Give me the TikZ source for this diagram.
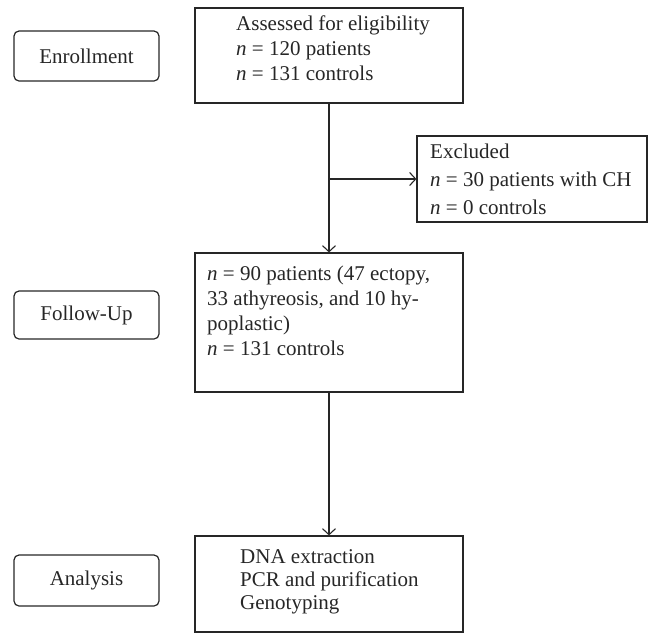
\documentclass[tikz,border=0pt]{standalone}
\usepackage{fontspec}
\setmainfont{Liberation Serif}
\usetikzlibrary{arrows.meta}
\definecolor{ink}{HTML}{262626}
\begin{document}
\begin{tikzpicture}[x=1pt,y=-1pt,
  font=\fontsize{21}{25}\selectfont,
  lbl/.style={draw=ink,line width=1.2pt,rounded corners=5pt,minimum width=145pt,minimum height=50pt,inner sep=0pt,text=ink},
  bx/.style={draw=ink,line width=1.2pt,inner sep=0pt,text=ink},
  txt/.style={anchor=west,align=left,inner sep=0pt,text=ink},
  conn/.style={draw=ink,line width=1.2pt},
  arr/.style={conn,-{Straight Barb[length=6pt,width=13pt,line width=1.1pt]}}]
\useasboundingbox (0,0) rectangle (649,633);
% left stage labels
\node[lbl] (enr) at (86.5,56) {Enrollment};
\node[lbl,minimum height=48pt] (fu) at (86.5,315) {Follow-Up};
\node[lbl,minimum height=51pt] (an) at (86.5,580.5) {Analysis};
% main boxes
\node[bx,minimum width=268pt,minimum height=95pt] (ass) at (329,55.5) {};
\node[bx,minimum width=230pt,minimum height=86pt] (exc) at (532,179) {};
\node[bx,minimum width=268pt,minimum height=139pt] (fol) at (329,322.5) {};
\node[bx,minimum width=268pt,minimum height=96pt] (ana) at (329,584) {};
% texts
\node[txt] (asst) at (236,48) {Assessed for eligibility\\ \textit{n} = 120 patients\\ \textit{n} = 131 controls};
\node[txt,font=\fontsize{21}{28}\selectfont] (exct) at (430,179) {Excluded\\ \textit{n} = 30 patients with CH\\ \textit{n} = 0 controls};
\node[txt] (folt) at (207,311) {\textit{n} = 90 patients (47 ectopy,\\ 33 athyreosis, and 10 hy-\\ poplastic)\\ \textit{n} = 131 controls};
\node[txt,font=\fontsize{21}{23}\selectfont] (anat) at (240,582) {DNA extraction\\ PCR and purification\\ Genotyping};
% connectors
\coordinate (br) at (ass.south |- exc.west);
\draw[arr] (ass.south) -- (ass.south |- fol.north);
\draw[arr] (br) -- (exc.west);
\draw[arr] (fol.south) -- (fol.south |- ana.north);
\end{tikzpicture}
\end{document}
